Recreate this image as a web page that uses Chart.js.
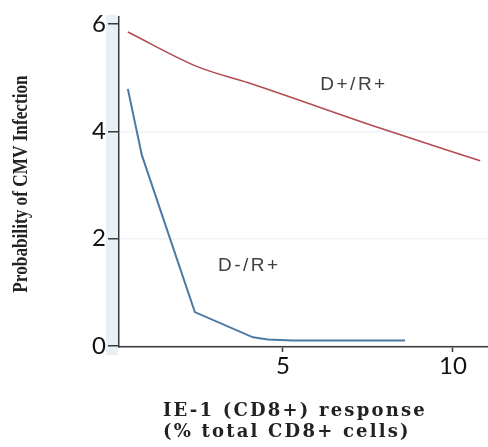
<!DOCTYPE html>
<html><head><meta charset="utf-8">
<script src="https://cdn.jsdelivr.net/npm/chart.js@4.4.0/dist/chart.umd.min.js"></script>
<style>html,body{margin:0;padding:0;background:#fff}#wrap{width:488px;height:447px}</style>
</head><body><div id="wrap"><canvas id="c" width="488" height="447"></canvas></div>
<script>
const xTickValues = [5, 10];
const yTickValues = [0, 2, 4, 6];
const posX = [0.44, 2.5, 4.0, 7.85, 10.8];
const posY = [5.85, 5.2, 4.9, 4.06, 3.45];
const negX = [0.44, 0.85, 2.41, 4.12, 4.56, 5.29, 8.59];
const negY = [4.79, 3.56, 0.63, 0.16, 0.12, 0.10, 0.10];
const seriesNames = ["D+/R+", "D-/R+"];
const xTitle = ["IE-1 (CD8+) response", "(% total CD8+ cells)"];
const yTitle = "Probability of CMV Infection";

const labelSpots = [{x: 7.09, y: 4.86}, {x: 4.01, y: 1.49}];

const toPts = (xs, ys) => xs.map((x, i) => ({x: x, y: ys[i]}));

const decor = {
  id: 'decor',
  beforeDraw(chart) {
    const {ctx, chartArea: a} = chart;
    ctx.save();
    ctx.fillStyle = '#e8f0f4';
    ctx.fillRect(a.left - 13, a.top - 2, 12, a.bottom - a.top + 10);
    ctx.restore();
  },
  afterDraw(chart) {
    const {ctx, chartArea: a, scales} = chart;
    ctx.save();
    // series labels
    ctx.font = '19px "Liberation Sans"';
    ctx.fillStyle = '#404040';
    ctx.textAlign = 'center';
    ctx.textBaseline = 'middle';
    try { ctx.letterSpacing = '2.5px'; } catch (e) {}
    seriesNames.forEach((t, i) => {
      ctx.fillText(t, scales.x.getPixelForValue(labelSpots[i].x), scales.y.getPixelForValue(labelSpots[i].y));
    });
    // x title
    ctx.font = 'bold 18px "DejaVu Serif"';
    ctx.fillStyle = '#222';
    ctx.textAlign = 'left';
    try { ctx.letterSpacing = '2.2px'; } catch (e) {}
    xTitle.forEach((t, i) => ctx.fillText(t, a.left + 44, a.bottom + 64 + i * 21));
    // y title
    try { ctx.letterSpacing = '0px'; } catch (e) {}
    ctx.translate(22, (a.top + a.bottom) / 2 + 2);
    ctx.rotate(-Math.PI / 2);
    ctx.scale(0.82, 1);
    ctx.font = 'bold 21px "Liberation Serif"';
    ctx.textAlign = 'center';
    ctx.fillText(yTitle, 0, 0);
    ctx.restore();
  }
};

new Chart(document.getElementById('c'), {
  type: 'line',
  data: {
    datasets: [
      {label: seriesNames[0], data: toPts(posX, posY), borderColor: '#b24a50', borderWidth: 1.5,
       pointRadius: 0, cubicInterpolationMode: 'monotone', fill: false},
      {label: seriesNames[1], data: toPts(negX, negY), borderColor: '#4a7aa3', borderWidth: 2,
       pointRadius: 0, tension: 0, fill: false}
    ]
  },
  options: {
    responsive: false,
    animation: false,
    devicePixelRatio: 1,
    layout: {padding: {top: 17, left: 0, right: 0, bottom: 0}},
    plugins: {legend: {display: false}, tooltip: {enabled: false}},
    scales: {
      x: {
        type: 'linear', min: 0.18, max: 11.03,
        border: {color: '#3a3a3a', width: 1.5},
        grid: {drawOnChartArea: false, tickLength: 5, tickColor: '#3a3a3a', tickWidth: 1.5},
        ticks: {font: {family: 'Lato', size: 24}, color: '#111', padding: 0, maxRotation: 0},
        afterBuildTicks: s => { s.ticks = xTickValues.map(v => ({value: v})); },
        afterFit: s => { s.height = 100; }
      },
      y: {
        type: 'linear', min: -0.02, max: 6.13,
        border: {color: '#3a3a3a', width: 1.5},
        grid: {
          color: c => (c.tick && c.tick.value !== 6) ? '#edf3f6' : 'rgba(0,0,0,0)',
          tickLength: 11, tickColor: '#3a3a3a', tickWidth: 1.5, lineWidth: 1.5
        },
        ticks: {font: {family: 'Lato', size: 24}, color: '#111', padding: 2},
        afterBuildTicks: s => { s.ticks = yTickValues.map(v => ({value: v})); },
        afterFit: s => { s.width = 119; }
      }
    }
  },
  plugins: [decor]
});
</script>
</body></html>
